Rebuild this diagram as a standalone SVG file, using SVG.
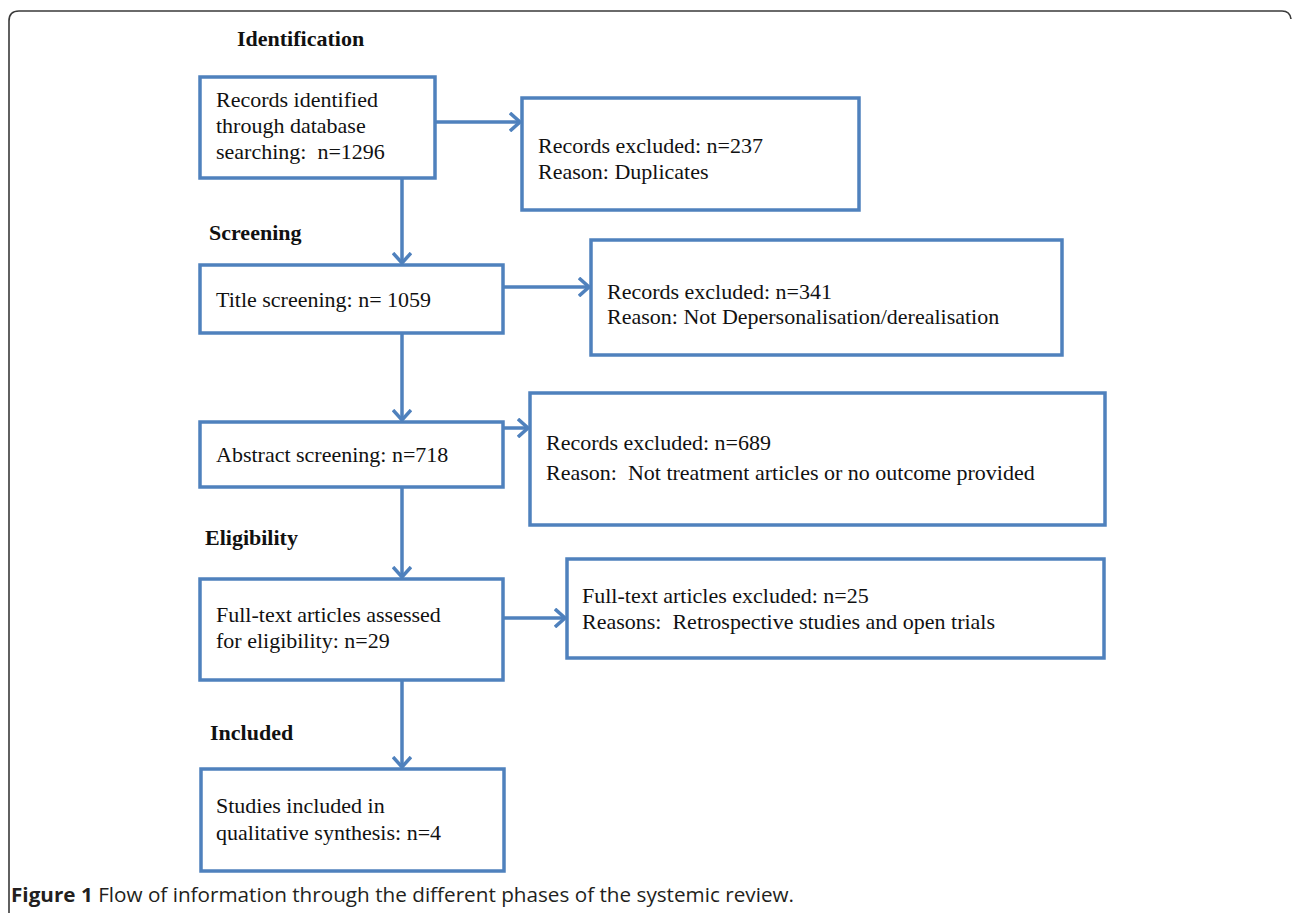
<svg xmlns="http://www.w3.org/2000/svg" width="1292" height="913" viewBox="0 0 1292 913">
<style>
.frame{fill:none;stroke:#3a3a3a;stroke-width:1.6}
.box{fill:#fff;stroke:#4f81bd;stroke-width:3.5}
.conn{fill:none;stroke:#4f81bd;stroke-width:3.5}
.t{font-family:"Liberation Serif","Times New Roman",serif;font-size:22px;fill:#111}
.h{font-family:"Liberation Serif","Times New Roman",serif;font-size:22px;font-weight:bold;fill:#111}
.cap{font-family:"Open Sans","Liberation Sans",sans-serif;font-size:20px;fill:#231f20}
</style>
<defs>
<marker id="arr" viewBox="0 0 12 20" refX="11" refY="10" markerWidth="12" markerHeight="20" markerUnits="userSpaceOnUse" orient="auto">
<path d="M1,1 L11,10 L1,19" fill="none" stroke="#4f81bd" stroke-width="3.5" stroke-linejoin="miter"/>
</marker>
</defs>
<path class="frame" d="M9,913 V21 Q9,11 19,11 H1282 Q1290,11 1291,19"/>

<text class="h" x="237" y="46">Identification</text>
<text class="h" x="209" y="240">Screening</text>
<text class="h" x="205" y="545">Eligibility</text>
<text class="h" x="210" y="740">Included</text>

<g id="connectors">
<path class="conn" d="M402,178 V263" marker-end="url(#arr)"/>
<path class="conn" d="M402,334 V420" marker-end="url(#arr)"/>
<path class="conn" d="M402,488 V577" marker-end="url(#arr)"/>
<path class="conn" d="M402,681 V767" marker-end="url(#arr)"/>
<path class="conn" d="M436,122 H520" marker-end="url(#arr)"/>
<path class="conn" d="M504,287 H589" marker-end="url(#arr)"/>
<path class="conn" d="M504,428 H528" marker-end="url(#arr)"/>
<path class="conn" d="M504,618 H565" marker-end="url(#arr)"/>
</g>

<g id="n1">
<rect class="box" x="200" y="77" width="235" height="101"/>
<text class="t" x="216" y="107">Records identified</text>
<text class="t" x="216" y="133">through database</text>
<text class="t" x="216" y="159" xml:space="preserve">searching:  n=1296</text>
</g>
<g id="n2">
<rect class="box" x="522" y="98" width="337" height="112"/>
<text class="t" x="538" y="153">Records excluded: n=237</text>
<text class="t" x="538" y="179">Reason: Duplicates</text>
</g>
<g id="n3">
<rect class="box" x="200" y="265" width="303" height="68"/>
<text class="t" x="216" y="307">Title screening: n= 1059</text>
</g>
<g id="n4">
<rect class="box" x="591" y="240" width="471" height="115"/>
<text class="t" x="607" y="299">Records excluded: n=341</text>
<text class="t" x="607" y="324">Reason: Not Depersonalisation/derealisation</text>
</g>
<g id="n5">
<rect class="box" x="200" y="422" width="303" height="65"/>
<text class="t" x="216" y="462">Abstract screening: n=718</text>
</g>
<g id="n6">
<rect class="box" x="530" y="393" width="575" height="132"/>
<text class="t" x="546" y="450">Records excluded: n=689</text>
<text class="t" x="546" y="480" xml:space="preserve">Reason:  Not treatment articles or no outcome provided</text>
</g>
<g id="n7">
<rect class="box" x="200" y="579" width="303" height="101"/>
<text class="t" x="216" y="622">Full-text articles assessed</text>
<text class="t" x="216" y="648">for eligibility: n=29</text>
</g>
<g id="n8">
<rect class="box" x="567" y="559" width="537" height="99"/>
<text class="t" x="582" y="603">Full-text articles excluded: n=25</text>
<text class="t" x="582" y="629" xml:space="preserve">Reasons:  Retrospective studies and open trials</text>
</g>
<g id="n9">
<rect class="box" x="201" y="769" width="303" height="102"/>
<text class="t" x="216" y="813">Studies included in</text>
<text class="t" x="216" y="840">qualitative synthesis: n=4</text>
</g>

<text class="cap" x="11" y="902" textLength="783" lengthAdjust="spacingAndGlyphs"><tspan font-weight="bold">Figure 1</tspan> Flow of information through the different phases of the systemic review.</text>
</svg>
